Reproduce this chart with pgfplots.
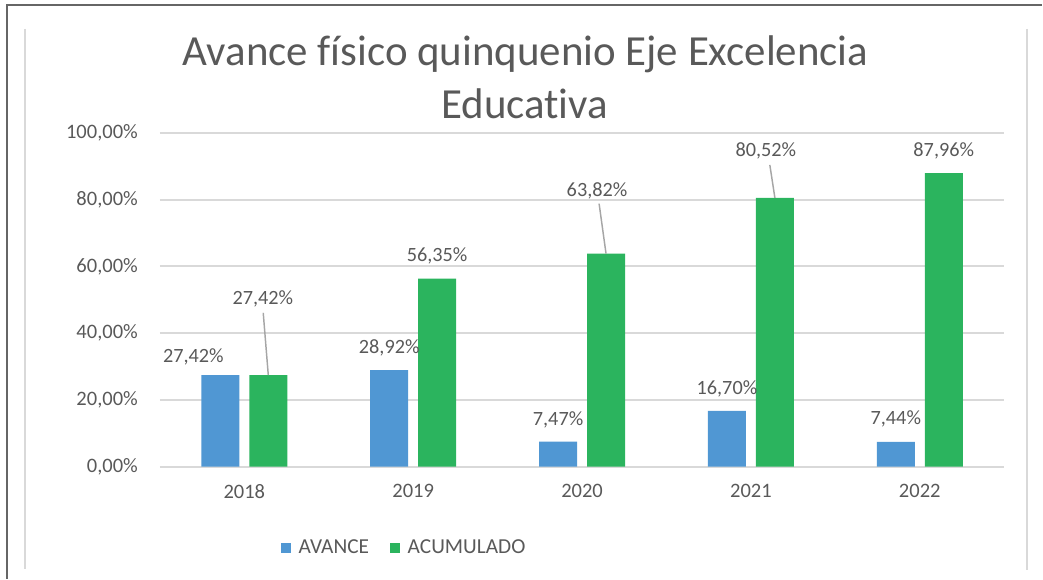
\documentclass[border=0pt]{standalone}
\usepackage{fontspec}
\setmainfont{Carlito}[Ligatures=NoCommon]
\usepackage{pgfplots}
\pgfplotsset{compat=1.18}
\usepackage{pgfplotstable}
\definecolor{txt}{HTML}{595959}
\definecolor{gridc}{HTML}{D9D9D9}
\definecolor{cblue}{HTML}{5097D3}
\definecolor{cgreen}{HTML}{2BB45E}
\definecolor{leader}{HTML}{A6A6A6}
% x, value, label dx (pt), label dy (pt)
\pgfplotstableread{
x y dx dy
0 27.42 -20.25 13.5
1 28.92 0 16.5
2 7.47 0 16.5
3 16.70 0 16.5
4 7.44 0 17.25
}\avance
\pgfplotstableread{
x y dx dy
0 27.42 -4.1 57
1 56.35 0 17.25
2 63.82 -6.75 47.25
3 80.52 -6.75 35.25
4 87.96 0 16.5
}\acumulado
\begin{document}
\begin{tikzpicture}
\begin{scope}[x=0.75pt,y=-0.75pt]
\path (0,0) rectangle (1043,579);
\draw[color=black!60,line width=1.2pt] (7,579) -- (7,5) -- (1043,5);
\draw[color=gridc,line width=1.5pt] (25,29) -- (25,569);
\draw[color=gridc,line width=1.5pt] (1028,29) -- (1028,570);
\node[anchor=base,text=txt,font=\fontsize{32.2}{38}\selectfont,inner sep=0] at (526,66) {Avance físico quinquenio Eje Excelencia};
\node[anchor=base,text=txt,font=\fontsize{32.2}{38}\selectfont,inner sep=0] at (525,119) {Educativa};
\end{scope}
\begin{axis}[
  at={(120pt,-350.25pt)}, anchor=south west,
  scale only axis, width=633.75pt, height=250.5pt,
  xmin=-0.5, xmax=4.5, ymin=0, ymax=100,
  xtick={0,1,2,3,4}, xticklabels={2018,2019,2020,2021,2022},
  ytick={0,20,40,60,80,100},
  yticklabels={{0,00\%},{20,00\%},{40,00\%},{60,00\%},{80,00\%},{100,00\%}},
  axis line style={draw=none},
  major tick length=0pt,
  ymajorgrids, major grid style={color=gridc,line width=1.5pt},
  tick label style={text=txt,font=\fontsize{15.4}{18}\selectfont},
  yticklabel style={xshift=-13pt},
  xticklabel style={yshift=-10pt},
  /pgf/number format/assume math mode=true,
  ybar, bar width=0.225,
  nodes near coords={\pgfmathprintnumber[fixed,fixed zerofill,precision=2,use comma]{\pgfplotspointmeta}\%},
  every node near coord/.append style={text=txt,font=\fontsize{15.2}{18}\selectfont,anchor=center,xshift=\dx,yshift=\dy},
  visualization depends on={\thisrow{dx}*1pt\as\dx},
  visualization depends on={\thisrow{dy}*1pt\as\dy},
  legend columns=2,
  legend style={draw=none,fill=none,at={(0.29,-0.2425)},anchor=center,
    text=txt,font=\fontsize{16}{18}\selectfont,
    /tikz/every even column/.append style={column sep=14pt}},
  legend image code/.code={\fill[#1] (0pt,-3.75pt) rectangle (7.5pt,3.75pt); \path (11pt,0pt);},
  clip=false,
]
\addplot[fill=cblue,draw=none,bar shift=-0.142] table[x=x,y=y] {\avance};
\addlegendentry{AVANCE}
\addplot[fill=cgreen,draw=none,bar shift=0.142] table[x=x,y=y] {\acumulado};
\addlegendentry{ACUMULADO}
\draw[leader,line width=1.1pt] (axis cs:0.112,46.1) -- (axis cs:0.142,27.42);
\draw[leader,line width=1.1pt] (axis cs:2.101,78.8) -- (axis cs:2.142,63.82);
\draw[leader,line width=1.1pt] (axis cs:3.112,90.4) -- (axis cs:3.142,80.52);
\end{axis}
\end{tikzpicture}
\end{document}
